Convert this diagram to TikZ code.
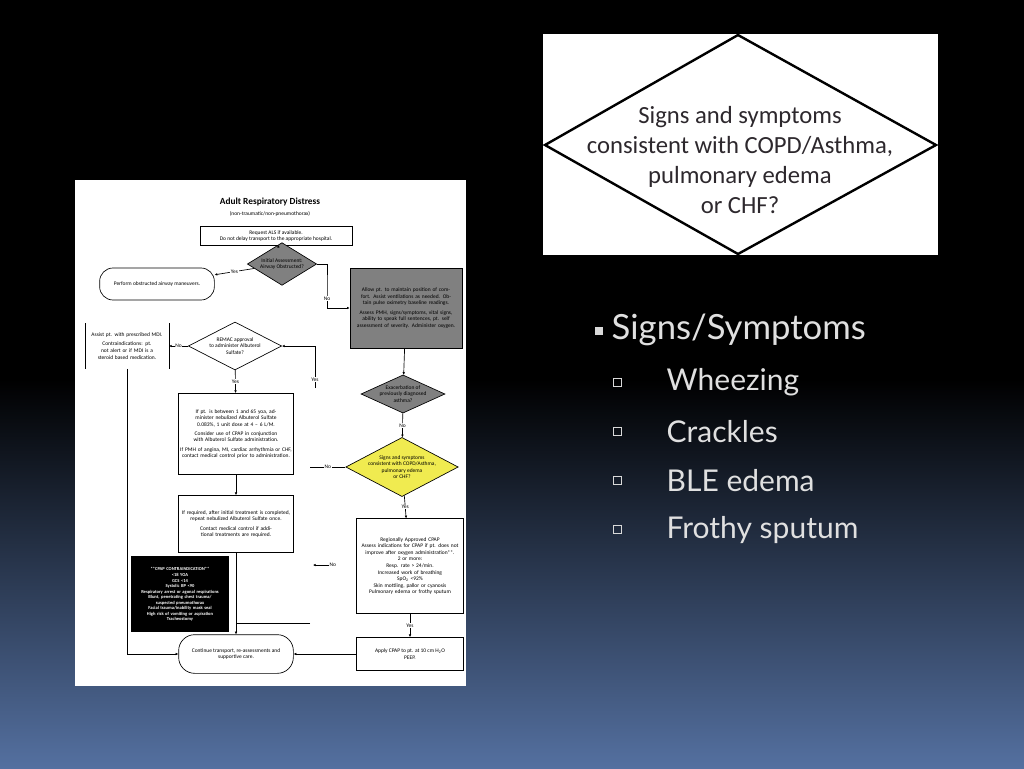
\documentclass[tikz,border=0pt]{standalone}
\usepackage{fontspec}
\setmainfont{Carlito}
\newfontfamily\bul{Lato}
\usetikzlibrary{shapes.geometric,arrows.meta}
\definecolor{bgb}{RGB}{84,112,160}
\definecolor{dgray}{RGB}{128,128,128}
\definecolor{ylw}{RGB}{240,235,80}
\definecolor{dtxt}{RGB}{45,40,45}
\begin{document}
\begin{tikzpicture}[x=0.75pt,y=-0.75pt,
  f/.style={font=\fontsize{4.1}{4.9}\selectfont,align=center},
  bx/.style={f,draw,line width=0.5pt,inner sep=1pt},
  dm/.style={f,diamond,draw,line width=0.5pt,aspect=1.7,inner sep=0pt},
  ar/.style={-{Latex[length=2pt,width=2pt]},line width=0.5pt},
  ln/.style={line width=0.5pt},
  lb/.style={f,fill=white,inner sep=0.5pt},
  sb/.style={text=white!88!black,font=\bul\fontsize{22.5}{26}\selectfont,anchor=west},
  sq/.style={draw=white!85!black,line width=0.6pt,minimum size=6pt,inner sep=0}]
\useasboundingbox (0,0) rectangle (1024,768);
\fill[black] (0,0) rectangle (1024,380);
\shade[top color=black,bottom color=bgb] (0,379) rectangle (1024,768);
% slide image
\fill[white] (75,180) rectangle (466,686);
\node[font=\fontsize{7}{8}\selectfont\bfseries] (title) at (270,202) {Adult Respiratory Distress};
\node[f] (sub) at (270,214) {(non-traumatic/non-pneumothorax)};
\node[bx,minimum width=114pt,minimum height=14pt] (b1) at (276,236) {Request ALS if available.\\Do not delay transport to the appropriate hospital.};
\node[dm,fill=dgray,minimum width=52pt,minimum height=32pt] (d1) at (282,264) {Initial Assessment:\\Airway Obstructed?};
\node[bx,rounded corners=10pt,minimum width=86pt,minimum height=24pt] (pa) at (157,284) {Perform obstructed airway maneuvers.};
\node[bx,fill=dgray,minimum width=84pt,minimum height=60pt,text width=80pt] (g1) at (406,308) {Allow pt. to maintain position of comfort. Assist ventilations as needed. Obtain pulse oximetry baseline readings.\\[2pt]Assess PMH, signs/symptoms, vital signs, ability to speak full sentences, pt. self assessment of severity. Administer oxygen.};
\node[dm,fill=white,minimum width=70pt,minimum height=36pt] (d2) at (235,346) {REMAC approval\\to administer Albuterol\\Sulfate?};
\node[f,text width=56pt,minimum width=60pt,minimum height=34pt] (mdi) at (127,346) {Assist pt. with prescribed MDI.\\[2pt]Contraindications: pt. not alert or if MDI is a steroid based medication.};
\draw[ln] (mdi.north west)--(mdi.south west) (mdi.north east)--(mdi.south east);
\node[bx,minimum width=86pt,minimum height=61pt,text width=84pt] (b3) at (236,434) {If pt. is between 1 and 65 yoa, administer nebulized Albuterol Sulfate 0.083\%, 1 unit dose at 4 -- 6 L/M.\\[2pt]Consider use of CPAP in conjunction with Albuterol Sulfate administration.\\[2pt]If PMH of angina, MI, cardiac arrhythmia or CHF, contact medical control prior to administration.};
\node[bx,minimum width=86pt,minimum height=43pt,text width=82pt] (b4) at (236,524) {If required, after initial treatment is completed, repeat nebulized Albuterol Sulfate once.\\[2pt]Contact medical control if additional treatments are required.};
\node[bx,fill=black,text=white,minimum width=73pt,minimum height=56pt,text width=70pt,font=\fontsize{3.4}{4.1}\selectfont\bfseries] (ci) at (180,594) {**CPAP CONTRAINDICATION**\\[1pt]<18 YOA\\GCS <14\\Systolic BP <90\\Respiratory arrest or agonal respirations\\Blunt, penetrating chest trauma/ suspected pneumothorax\\Facial trauma/inability mask seal\\High risk of vomiting or aspiration\\Tracheostomy};
\node[bx,rounded corners=12pt,minimum width=86pt,minimum height=29pt] (cont) at (236,654) {Continue transport, re-assessments and\\supportive care.};
\node[dm,fill=dgray,minimum width=62pt,minimum height=28pt,aspect=2.2] (ex) at (403,394) {Exacerbation of\\previously diagnosed\\asthma?};
\node[dm,fill=ylw,minimum width=79pt,minimum height=43pt,aspect=1.9] (ye) at (402,467) {Signs and symptoms\\consistent with COPD/Asthma,\\pulmonary edema\\or CHF?};
\node[bx,minimum width=80pt,minimum height=71pt,text width=78pt] (cp) at (410,566) {Regionally Approved CPAP\\Assess indications for CPAP if pt. does not improve after oxygen administration**.\\2 or more:\\Resp. rate > 24/min.\\Increased work of breathing\\SpO\textsubscript{2} <92\%\\Skin mottling, pallor or cyanosis\\Pulmonary edema or frothy sputum};
\node[bx,minimum width=80pt,minimum height=25pt] (ap) at (410,654) {Apply CPAP to pt. at 10 cm H\textsubscript{2}O\\PEEP.};
\coordinate (c1) at (327,285); \coordinate (c2) at (327,308);
\coordinate (y1) at (315,388); \coordinate (y2) at (315,346);
\coordinate (n1) at (310,467); \coordinate (n2) at (313,565);
\coordinate (m1) at (127,654); \coordinate (j1) at (310,623); \coordinate (j2) at (236,623);
\draw[ar] (b1)--(d1);
\draw[ar] (d1)--node[lb]{Yes}(pa);
\draw[ar] (d1.east)-|(c1)--node[lb,pos=0.6]{No}(c2)--(c2-|g1.west);
\draw[ar] (d2)--node[lb]{No}(mdi);
\draw[ar] (y1)--node[lb,pos=0.2]{Yes}(y2)--(d2.east);
\draw[ar] (d2)--node[lb]{Yes}(b3);
\draw[ar] (b3)--(b4);
\draw[ar] (b4)--(cont);
\draw[ln] (j1)--(j2);
\draw[ar] (mdi.south)--(m1)--(cont.west);
\draw[ar] (g1)--(ex);
\draw[ar] (ex)--node[lb]{No}(ye);
\draw[ln] (ye.west)--node[lb]{No}(n1);
\draw[ar] (ye)--node[lb]{Yes}(cp);
\draw[ar] (n2)++(22,0)--node[lb,pos=0.1]{No}(n2);
\draw[ar] (cp)--node[lb]{Yes}(ap);
\draw[ar] (ap)--(cont);
% right diamond image
\fill[white] (543,34) rectangle (938,255);
\coordinate (bw) at (545,145); \coordinate (bn) at (738,35);
\coordinate (be) at (936,145); \coordinate (bs) at (738,254);
\draw[line width=1.8pt,line join=miter] (bw)--(bn)--(be)--(bs)--cycle;
\node[text=dtxt,font=\fontsize{18.5}{22.5}\selectfont,align=center] (big) at (740,160) {Signs and symptoms\\consistent with COPD/Asthma,\\pulmonary edema\\or CHF?};
% bullets
\node[fill=white!85!black,minimum size=6pt,inner sep=0] (s0) at (599,331) {};
\node[sb,font=\bul\fontsize{26}{30}\selectfont] (t0) at (607,330) {Signs/Symptoms};
\node[sq] (s1) at (617,382) {}; \node[sb] (t1) at (662,382) {Wheezing};
\node[sq] (s2) at (617,431) {}; \node[sb] (t2) at (662,432) {Crackles};
\node[sq] (s3) at (617,480) {}; \node[sb] (t3) at (662,481) {BLE edema};
\node[sq] (s4) at (617,529) {}; \node[sb] (t4) at (662,530) {Frothy sputum};
\end{tikzpicture}
\end{document}
